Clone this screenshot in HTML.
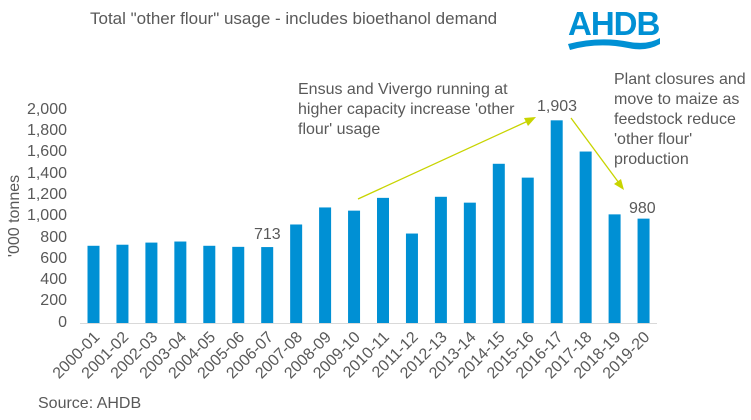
<!DOCTYPE html>
<html><head><meta charset="utf-8"><style>
body{margin:0;background:#fff}
svg{display:block;font-family:"Liberation Sans",Arial,sans-serif}
</style></head><body>
<svg width="751" height="420" viewBox="0 0 751 420" xmlns="http://www.w3.org/2000/svg">
<text x="90" y="24" font-size="17" fill="#595959">Total "other flour" usage - includes bioethanol demand</text>
<text x="568" y="35" font-size="33" font-weight="bold" fill="#0090d4" letter-spacing="-1">AHDB</text>
<path d="M568 44 Q600 36 630 42 Q648 45 660 38 L660 44 Q646 52 628 48 Q598 42 570 50 Z" fill="#0090d4"/>
<g font-size="16" fill="#595959" text-anchor="end">
<text x="67" y="114">2,000</text><text x="67" y="135">1,800</text><text x="67" y="156">1,600</text>
<text x="67" y="178">1,400</text><text x="67" y="199">1,200</text><text x="67" y="220">1,000</text>
<text x="67" y="242">800</text><text x="67" y="263">600</text><text x="67" y="284">400</text>
<text x="67" y="305">200</text><text x="67" y="327">0</text>
</g>
<text transform="translate(19,216) rotate(-90)" font-size="16" fill="#595959" text-anchor="middle">'000 tonnes</text>
<line x1="80" y1="323.5" x2="657" y2="323.5" stroke="#d9d9d9" stroke-width="1"/>
<g fill="#0090d4" id="bars"></g>
<g id="labels" font-size="16" fill="#595959" text-anchor="end"></g>
<text x="254" y="239" font-size="16" fill="#595959">713</text>
<text x="537" y="111" font-size="16" fill="#595959">1,903</text>
<text x="629" y="213" font-size="16" fill="#595959">980</text>
<g font-size="16" fill="#595959">
<text x="298" y="94">Ensus and Vivergo running at</text>
<text x="298" y="114">higher capacity increase 'other</text>
<text x="298" y="134">flour' usage</text>
<text x="614" y="84">Plant closures and</text>
<text x="614" y="104">move to maize as</text>
<text x="614" y="124">feedstock reduce</text>
<text x="614" y="144">'other flour'</text>
<text x="614" y="164">production</text>
</g>
<g stroke="#c8d400" stroke-width="1.3" fill="#c8d400">
<line x1="358" y1="199" x2="528" y2="121"/>
<polygon points="536,117 524,118 528,126" stroke="none"/>
<line x1="571" y1="118" x2="619" y2="183"/>
<polygon points="624,190 614,184 621,179" stroke="none"/>
</g>
<text x="38" y="408" font-size="16" fill="#595959">Source: AHDB</text>
<script>
var v=[725,735,755,765,725,715,713,925,1085,1055,1175,840,1185,1130,1495,1365,1903,1610,1020,980];
var n=['2000-01','2001-02','2002-03','2003-04','2004-05','2005-06','2006-07','2007-08','2008-09','2009-10','2010-11','2011-12','2012-13','2013-14','2014-15','2015-16','2016-17','2017-18','2018-19','2019-20'];
var b=document.getElementById('bars'),l=document.getElementById('labels'),ns='http://www.w3.org/2000/svg';
for(var i=0;i<20;i++){var c=93.5+i*28.95,h=v[i]*0.1065;
var r=document.createElementNS(ns,'rect');r.setAttribute('x',c-6);r.setAttribute('y',323-h);r.setAttribute('width',12);r.setAttribute('height',h);b.appendChild(r);
var t=document.createElementNS(ns,'text');t.setAttribute('transform','translate('+(c+7)+',338) rotate(-45)');t.textContent=n[i];l.appendChild(t);}
</script>
</svg>
</body></html>
